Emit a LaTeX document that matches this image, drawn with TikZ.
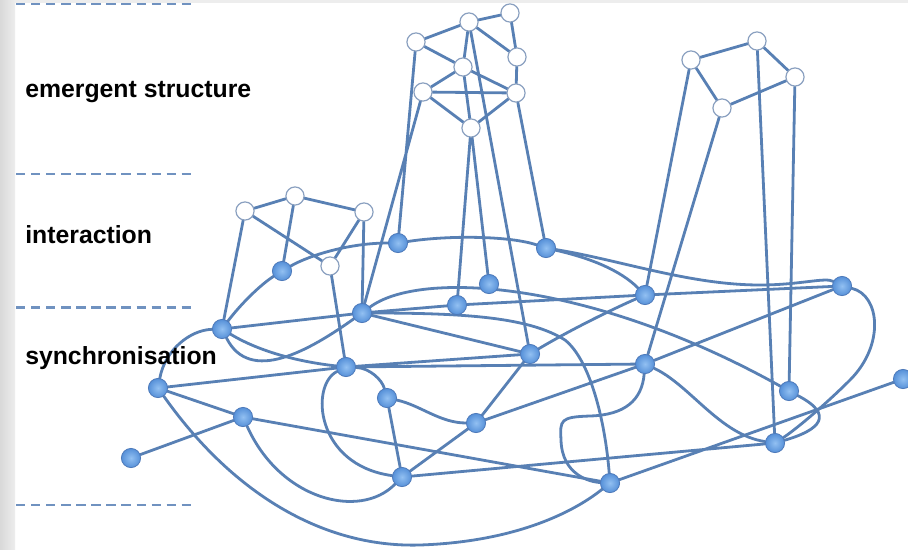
\documentclass[tikz,border=0pt]{standalone}
\usepackage{fontspec}
\setmainfont{Liberation Sans}
\pgfdeclarelayer{paper}
\pgfdeclarelayer{edges}
\pgfsetlayers{paper,edges,main}
\definecolor{edgeblue}{RGB}{88,128,180}
\definecolor{dashblue}{RGB}{112,146,192}
\definecolor{ballhi}{RGB}{146,192,242}
\definecolor{balllo}{RGB}{86,144,216}
\definecolor{ballrim}{RGB}{78,122,186}
\definecolor{ringgrey}{RGB}{138,160,192}
\begin{document}
\begin{tikzpicture}[x=0.75pt,y=-0.75pt,
  bnode/.style={circle,minimum size=14.4pt,inner sep=0pt,draw=ballrim,line width=0.6pt,
                inner color=ballhi,outer color=balllo},
  wnode/.style={circle,minimum size=13.6pt,inner sep=0pt,draw=ringgrey,line width=0.9pt,fill=white},
  link/.style={draw=edgeblue,line width=2.1pt,line cap=round},
  divider/.style={draw=dashblue,line width=2.1pt,dash pattern=on 7pt off 4.3pt},
  lbl/.style={font=\bfseries\fontsize{18.6}{22}\selectfont,anchor=base west,inner sep=0pt,text=black}]
\useasboundingbox (0,0) rectangle (908,550);
\begin{pgfonlayer}{paper}
% page background with the grey frame strips
\fill[white] (0,0) rectangle (908,550);
\shade[left color=gray!30,right color=gray!14] (0,0) rectangle (15,550);
\fill[gray!14] (15,0) rectangle (908,3);
\end{pgfonlayer}

% level dividers
\draw[divider] (16,4) -- (196,4);
\draw[divider] (16,174) -- (196,174);
\draw[divider] (16,307.5) -- (196,307.5);
\draw[divider] (16,505) -- (196,505);

% level labels
\node[lbl] (lemerg) at (25,97.5) {emergent structure};
\node[lbl] (linter) at (25,243.5) {interaction};
\node[lbl] (lsync)  at (25,364) {synchronisation};

% emergent structures (top)
\node[wnode] (W1) at (469,22) {};
\node[wnode] (W2) at (510,13) {};
\node[wnode] (W3) at (416,42) {};
\node[wnode] (W4) at (517,57) {};
\node[wnode] (W5) at (463,67) {};
\node[wnode] (W6) at (423,92) {};
\node[wnode] (W7) at (516,93) {};
\node[wnode] (W8) at (471,128) {};
\node[wnode] (Wr1) at (691,60) {};
\node[wnode] (Wr2) at (757,41) {};
\node[wnode] (Wr3) at (795,77) {};
\node[wnode] (Wr4) at (722,108) {};
% interaction cluster
\node[wnode] (Wl1) at (245,211) {};
\node[wnode] (Wl2) at (295,196) {};
\node[wnode] (Wl3) at (364,212) {};
\node[wnode] (Wl4) at (330,266) {};

% synchronised agents
\node[bnode] (B1) at (398,243) {};
\node[bnode] (B2) at (546,248) {};
\node[bnode] (B3) at (282,271) {};
\node[bnode] (B4) at (489,284) {};
\node[bnode] (B5) at (457,305) {};
\node[bnode] (B6) at (362,313) {};
\node[bnode] (B7) at (645,295) {};
\node[bnode] (B8) at (842,286) {};
\node[bnode] (B9) at (222,329) {};
\node[bnode] (B10) at (530,354) {};
\node[bnode] (B11) at (346,367) {};
\node[bnode] (B12) at (645,364) {};
\node[bnode] (B13) at (158,388) {};
\node[bnode] (B14) at (387,398) {};
\node[bnode] (B15) at (243,417) {};
\node[bnode] (B16) at (476,423) {};
\node[bnode] (B17) at (789,391) {};
\node[bnode] (B18) at (903,379) {};
\node[bnode] (B19) at (775,443) {};
\node[bnode] (B20) at (131,458) {};
\node[bnode] (B21) at (402,477) {};
\node[bnode] (B22) at (610,483) {};

\begin{pgfonlayer}{edges}
% top structure
\draw[link] (W3)--(W1) (W1)--(W2) (W2)--(W4) (W4)--(W7) (W1)--(W4) (W1)--(W5)
  (W3)--(W5) (W5)--(W6) (W5)--(W7) (W5)--(W8) (W6)--(W7) (W6)--(W8) (W7)--(W8);
\draw[link] (W3)--(B1) (W6)--(B6) (W1)--(B10) (W8)--(B5) (W8)--(B4) (W7)--(B2);
% right structure
\draw[link] (Wr1)--(Wr2) (Wr2)--(Wr3) (Wr1)--(Wr4) (Wr4)--(Wr3);
\draw[link] (Wr1)--(B7) (Wr4)--(B12) (Wr2)--(B19) (Wr3)--(B17);
% interaction cluster
\draw[link] (Wl1)--(Wl2) (Wl2)--(Wl3) (Wl1)--(Wl4) (Wl3)--(Wl4);
\draw[link] (Wl2)--(B3) (Wl1)--(B9) (Wl3)--(B6) (Wl4)--(B11);
% agent network
\draw[link] (B9) .. controls (240,305) and (260,285) .. (B3);
\draw[link] (B3) .. controls (310,255) and (350,243) .. (B1);
\draw[link] (B1) .. controls (450,235) and (510,236) .. (B2);
\draw[link] (B2) .. controls (620,260) and (690,285) .. (760,285)
                 .. controls (800,285) and (825,277) .. (B8);
\draw[link] (B2) .. controls (590,258) and (620,270) .. (B7);
\draw[link] (B7)--(B8) (B5)--(B7) (B6)--(B5) (B9)--(B6);
\draw[link] (B9) .. controls (260,352) and (300,362) .. (B11);
\draw[link] (B9) .. controls (250,385) and (310,350) .. (B6);
\draw[link] (B9) .. controls (190,330) and (165,350) .. (B13);
\draw[link] (B13)--(B11) (B13)--(B15) (B20)--(B15) (B15)--(B22);
\draw[link] (B15) .. controls (280,500) and (360,520) .. (B21);
\draw[link] (B13) .. controls (230,490) and (320,548) .. (420,545)
                  .. controls (510,542) and (570,515) .. (B22);
\draw[link] (B11)--(B10) (B11)--(B12);
\draw[link] (B11) .. controls (370,368) and (382,380) .. (B14);
\draw[link] (B11) .. controls (310,385) and (315,465) .. (B21);
\draw[link] (B14) .. controls (420,405) and (440,423) .. (B16);
\draw[link] (B14)--(B21) (B10)--(B16) (B16)--(B21) (B16)--(B12) (B6)--(B10);
\draw[link] (B6) .. controls (420,270) and (590,280) .. (B17);
\draw[link] (B6) .. controls (470,313) and (530,318) .. (565,340)
                 .. controls (590,360) and (605,420) .. (B22);
\draw[link] (B7) .. controls (615,308) and (570,330) .. (B10);
\draw[link] (B12)--(B8);
\draw[link] (B12) .. controls (690,385) and (720,435) .. (B19);
\draw[link] (B12) .. controls (642,400) and (625,415) .. (590,416)
                  .. controls (560,417) and (560,420) .. (561,440)
                  .. controls (562,475) and (590,482) .. (B22);
\draw[link] (B8) .. controls (880,295) and (885,345) .. (850,380)
                 .. controls (825,405) and (795,430) .. (B19);
\draw[link] (B17) .. controls (835,415) and (820,430) .. (B19);
\draw[link] (B21)--(B19) (B18)--(B22);
\end{pgfonlayer}
\end{tikzpicture}
\end{document}
